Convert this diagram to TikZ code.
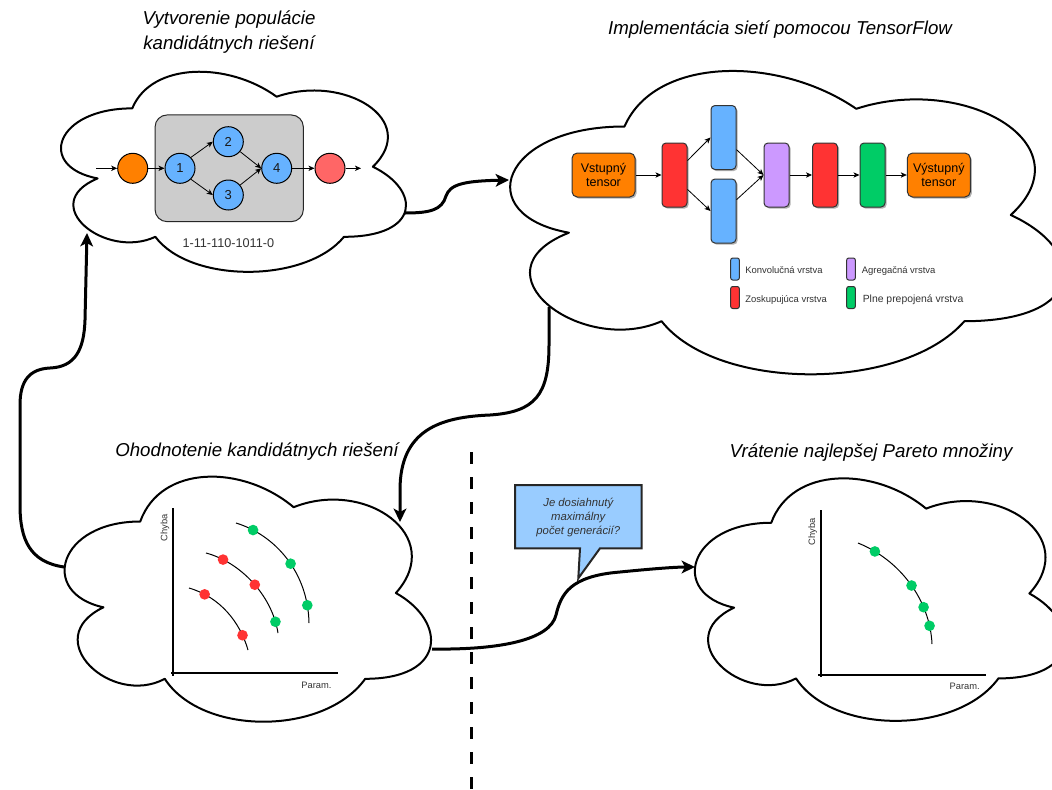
\documentclass[tikz,border=0pt]{standalone}
\usepackage{fontspec}
\setmainfont{Liberation Sans}
\usetikzlibrary{arrows.meta,shadows,calc}

\definecolor{cOrange}{HTML}{FF8000}
\definecolor{cNodeBlue}{HTML}{66B2FF}
\definecolor{cSink}{HTML}{FF6666}
\definecolor{cGray}{HTML}{CCCCCC}
\definecolor{cRed}{HTML}{FF3333}
\definecolor{cPurple}{HTML}{CC99FF}
\definecolor{cGreen}{HTML}{00CC66}
\definecolor{cCallout}{HTML}{99CCFF}
\definecolor{cText}{HTML}{333333}

% draw.io style cloud: lower-left corner of its box at (#1,#2), size #3 x #4
\newcommand\drawcloud[4]{%
  \draw[cloudline]
  ({#1+.25*#3},{#2+.25*#4}) .. controls ({#1+.05*#3},{#2+.25*#4}) and ({#1},{#2+.5*#4}) .. ({#1+.16*#3},{#2+.55*#4})
  .. controls ({#1},{#2+.66*#4}) and ({#1+.18*#3},{#2+.9*#4}) .. ({#1+.31*#3},{#2+.8*#4})
  .. controls ({#1+.4*#3},{#2+#4}) and ({#1+.7*#3},{#2+#4}) .. ({#1+.8*#3},{#2+.8*#4})
  .. controls ({#1+#3},{#2+.8*#4}) and ({#1+#3},{#2+.6*#4}) .. ({#1+.875*#3},{#2+.5*#4})
  .. controls ({#1+#3},{#2+.3*#4}) and ({#1+.8*#3},{#2+.1*#4}) .. ({#1+.625*#3},{#2+.2*#4})
  .. controls ({#1+.5*#3},{#2+.05*#4}) and ({#1+.3*#3},{#2+.05*#4}) .. ({#1+.25*#3},{#2+.25*#4}) -- cycle;}

\tikzset{
  cloudline/.style={line width=1.5pt, fill=white, line join=round},
  title/.style={font=\fontsize{14pt}{18.75pt}\selectfont\itshape, align=center, inner sep=0pt},
  flow/.style={line width=2.25pt, -{Stealth[length=10pt,width=9.5pt,inset=2.5pt]}},
  thinarrow/.style={line width=0.6pt, -{Stealth[length=4.5pt,width=4pt,inset=1.2pt]}},
  divider/.style={line width=2.25pt, dash pattern=on 9pt off 9.75pt},
  graybox/.style={draw=black!85, fill=cGray, line width=0.75pt, rounded corners=9pt,
    minimum width=111.2pt, minimum height=80pt},
  netnode/.style={circle, draw=black, line width=0.75pt, minimum size=22.5pt, inner sep=0pt,
    font=\fontsize{9.75pt}{11pt}\selectfont, text=black!90},
  codelabel/.style={font=\fontsize{9.5pt}{11pt}\selectfont, text=cText, inner sep=0pt},
  layer/.style={draw=black!80, line width=0.75pt, rounded corners=3pt, minimum width=18.75pt,
    minimum height=48pt, inner sep=0pt,
    drop shadow={shadow xshift=1.2pt, shadow yshift=-1.2pt, opacity=0.3, fill=black}},
  tensor/.style={layer, fill=cOrange, minimum width=47.25pt, minimum height=33pt, rounded corners=4pt,
    align=center, font=\fontsize{9.4pt}{10.5pt}\selectfont},
  legendbox/.style={draw=black!80, line width=0.75pt, rounded corners=1.5pt, minimum width=6.4pt,
    minimum height=16.5pt, inner sep=0pt},
  legendtext/.style={anchor=west, inner sep=0pt, font=\fontsize{7.1pt}{8.5pt}\selectfont, text=cText},
  axis/.style={line width=1.5pt},
  front/.style={line width=0.75pt},
  axlabel/.style={inner sep=0pt, font=\fontsize{7pt}{8pt}\selectfont, text=cText},
  dot/.style={circle, inner sep=0pt, minimum size=8pt},
  reddot/.style={dot, fill=cRed},
  greendot/.style={dot, fill=cGreen},
  callout/.style={draw=black!85, fill=cCallout, line width=1.5pt, line join=miter},
  callouttext/.style={align=center, inner sep=0pt, font=\fontsize{8.5pt}{10.5pt}\selectfont\itshape, text=cText},
}

\begin{document}
\begin{tikzpicture}[x=0.75pt,y=-0.75pt]
\useasboundingbox (0,0) rectangle (1052,789);
\fill[white] (0,0) rectangle (1052,789);
\clip (0,0) rectangle (1052,789);

% ---------- titles ----------
\node[title] (t1) at (229,32.5) {Vytvorenie populácie\\kandidátnych riešení};
\node[title] (t2) at (780,30) {Implementácia sietí pomocou TensorFlow};
\node[title] (t3) at (257,452) {Ohodnotenie kandidátnych riešení};
\node[title] (t4) at (871,453) {Vrátenie najlepšej Pareto množiny};

% ---------- clouds ----------
\drawcloud{36}{50}{385}{233.5}
\drawcloud{470}{38}{618}{354}
\drawcloud{38}{450}{409}{286}
\drawcloud{668}{452}{413}{283}

% ---------- population: encoded network ----------
\node[graybox] (genome) at (229.2,168.3) {};
\node[netnode, fill=cOrange] (src) at (132.7,168.3) {};
\node[netnode, fill=cNodeBlue] (n1) at (180,168.3) {1};
\node[netnode, fill=cNodeBlue] (n2) at (228.3,141.7) {2};
\node[netnode, fill=cNodeBlue] (n3) at (228.3,195) {3};
\node[netnode, fill=cNodeBlue] (n4) at (276.7,168.3) {4};
\node[netnode, fill=cSink] (snk) at (330,168.3) {};
\coordinate (inA) at (96,168.3);
\coordinate (outA) at (361,168.3);
\draw[thinarrow] (inA) -- (src);
\draw[thinarrow] (src) -- (n1);
\draw[thinarrow] (n1.45) -- (n2.west);
\draw[thinarrow] (n1.-45) -- (n3.west);
\draw[thinarrow] (n2.-40) -- (n4.west);
\draw[thinarrow] (n3.40) -- (n4.west);
\draw[thinarrow] (n4) -- (snk);
\draw[thinarrow] (snk) -- (outA);
\node[codelabel] (code) at (228.3,242.7) {1-11-110-1011-0};

% ---------- TensorFlow network ----------
\node[tensor] (in1) at (603.5,175) {Vstupný\\tensor};
\node[layer, fill=cRed] (r1) at (674.5,175) {};
\node[layer, fill=cNodeBlue] (b1) at (723.5,137.5) {};
\node[layer, fill=cNodeBlue] (b2) at (723.5,211) {};
\node[layer, fill=cPurple] (p1) at (776.5,175) {};
\node[layer, fill=cRed] (r2) at (825,175) {};
\node[layer, fill=cGreen] (g1) at (872.5,175) {};
\node[tensor] (out1) at (938.8,175) {Výstupný\\tensor};
\draw[thinarrow] (in1) -- (r1);
\draw[thinarrow] (r1.48) -- (b1.west);
\draw[thinarrow] (r1.-48) -- (b2.west);
\draw[thinarrow] (b1.-43) -- (p1.west);
\draw[thinarrow] (b2.41) -- (p1.west);
\draw[thinarrow] (p1) -- (r2);
\draw[thinarrow] (r2) -- (g1);
\draw[thinarrow] (g1) -- (out1);

% legend
\node[legendbox, fill=cNodeBlue] (lb) at (735,269) {};
\node[legendbox, fill=cRed] (lr) at (735,297.5) {};
\node[legendbox, fill=cPurple] (lp) at (851,269) {};
\node[legendbox, fill=cGreen] (lg) at (851,297.5) {};
\node[legendtext] (lbt) at (745,270.5) {Konvolučná vrstva};
\node[legendtext] (lrt) at (745,299.5) {Zoskupujúca vrstva};
\node[legendtext] (lpt) at (861.5,270.5) {Agregačná vrstva};
\node[legendtext, font=\fontsize{7.8pt}{9pt}\selectfont] (lgt) at (862.5,300) {Plne prepojená vrstva};

% ---------- evaluation: fronts ----------
\coordinate (y3a) at (173.3,508.3);
\coordinate (y3b) at (173.3,676);
\coordinate (x3a) at (171,673.3);
\coordinate (x3b) at (338.3,673.3);
\draw[axis] (y3a) -- (y3b);
\draw[axis] (x3a) -- (x3b);
\node[axlabel, rotate=90] (ch3) at (165,528) {Chyba};
\node[axlabel, anchor=east] (pa3) at (331.7,685) {Param.};
\draw[front] (189,588) .. controls (220,597) and (240,622) .. (248,650)
  node[reddot, pos=0.18] (fa1) {} node[reddot, pos=0.82] (fa2) {};
\draw[front] (206,553) .. controls (240,562) and (272,595) .. (278,633)
  node[reddot, pos=0.17] (fb1) {} node[reddot, pos=0.53] (fb2) {} node[greendot, pos=0.9] (fb3) {};
\draw[front] (236,523) .. controls (275,535) and (308,572) .. (309,623)
  node[greendot, pos=0.15] (fc1) {} node[greendot, pos=0.55] (fc2) {} node[greendot, pos=0.88] (fc3) {};

% ---------- best Pareto set ----------
\coordinate (y4a) at (821,510);
\coordinate (y4b) at (821,676.7);
\coordinate (x4a) at (818.3,675);
\coordinate (x4b) at (986,675);
\draw[axis] (y4a) -- (y4b);
\draw[axis] (x4a) -- (x4b);
\node[axlabel, rotate=90] (ch4) at (812.7,532) {Chyba};
\node[axlabel, anchor=east] (pa4) at (980,686) {Param.};
\draw[front] (858,543) .. controls (900,560) and (930,600) .. (932,644)
  node[greendot, pos=0.14] (fd1) {} node[greendot, pos=0.52] (fd2) {}
  node[greendot, pos=0.71] (fd3) {} node[greendot, pos=0.86] (fd4) {};

% ---------- flow between stages ----------
\coordinate (c1E) at (405,213);
\coordinate (c2W) at (509,180);
\coordinate (c2S) at (549,307);
\coordinate (c3NE) at (400,522);
\coordinate (c3W) at (64,567);
\coordinate (c1SW) at (87,233);
\coordinate (c3E) at (432,649);
\coordinate (c4W) at (695,567);

\draw[flow] (c1E) .. controls (430,213) and (442,210) .. (446,196)
  .. controls (450,184) and (465,181) .. (c2W);
\draw[flow] (c2S) -- (549,345) .. controls (549,395) and (535,412) .. (490,415)
  .. controls (440,417) and (400,430) .. (400,490) -- (c3NE);
\draw[flow] (c3W) .. controls (30,562) and (20,540) .. (20,505) -- (20,405)
  .. controls (20,380) and (30,369) .. (50,368)
  .. controls (75,367) and (84,350) .. (85,320) -- (c1SW);
\draw[flow] (c3E) .. controls (500,650) and (550,640) .. (556,615)
  .. controls (561,594) and (570,576) .. (620,572)
  .. controls (650,569) and (675,567) .. (c4W);

% stopping question
\draw[callout] (515,485) -- (641.7,485) -- (641.7,548.3) -- (600,548.3) -- (578.3,578.3)
  -- (580,548.3) -- (515,548.3) -- cycle;
\node[callouttext] (ask) at (578.3,517.5) {Je dosiahnutý\\maximálny\\počet generácií?};

% divider
\coordinate (dtop) at (471.5,452);
\coordinate (dbot) at (471.5,789);
\draw[divider] (dtop) -- (dbot);

\end{tikzpicture}
\end{document}
